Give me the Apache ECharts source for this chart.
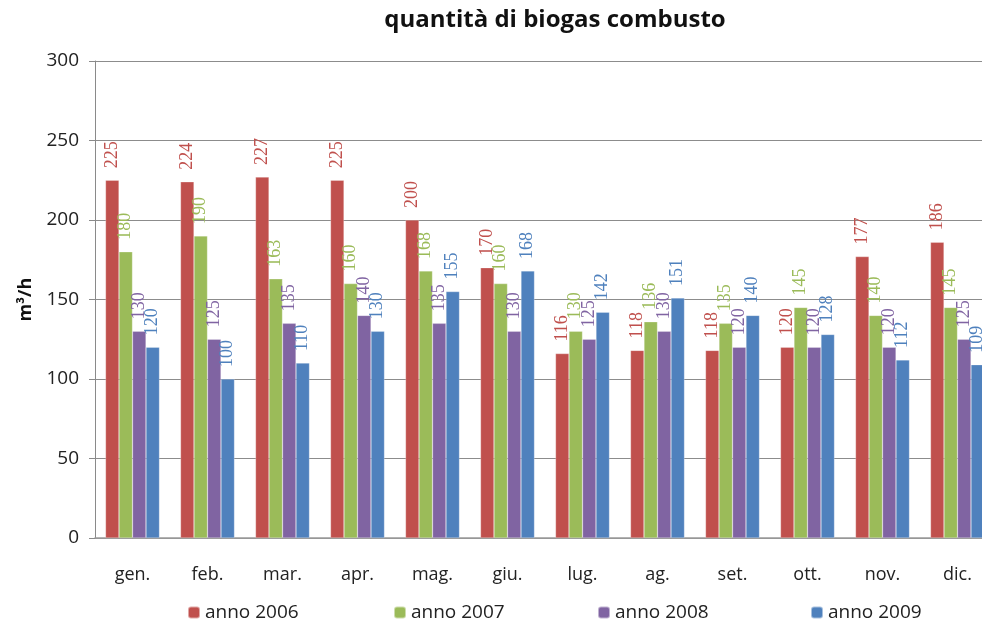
<!DOCTYPE html>
<html>
<head>
<meta charset="utf-8">
<script src="https://cdn.jsdelivr.net/npm/echarts@6/dist/echarts.min.js"></script>
<style>
  html, body { margin: 0; padding: 0; background: #fff; }
  #chart { width: 982px; height: 622px; }
</style>
</head>
<body>
<div id="chart"></div>
<script>
const months = ['gen.', 'feb.', 'mar.', 'apr.', 'mag.', 'giu.', 'lug.', 'ag.', 'set.', 'ott.', 'nov.', 'dic.']
const seriesNames = ['anno 2006', 'anno 2007', 'anno 2008', 'anno 2009']
const anno2006 = [225, 224, 227, 225, 200, 170, 116, 118, 118, 120, 177, 186]
const anno2007 = [180, 190, 163, 160, 168, 160, 130, 136, 135, 145, 140, 145]
const anno2008 = [130, 125, 135, 140, 135, 130, 125, 130, 120, 120, 120, 125]
const anno2009 = [120, 100, 110, 130, 155, 168, 142, 151, 140, 128, 112, 109]
const yTicks = [0, 50, 100, 150, 200, 250, 300]

const colors = ['#C0504D', '#9BBB59', '#8064A2', '#4F81BD']
const values = [anno2006, anno2007, anno2008, anno2009]
const legendLeft = [187, 393, 597, 810]

const sansFont = '"Open Sans", "DejaVu Sans", sans-serif'

const chart = echarts.init(document.getElementById('chart'))

const option = {
  backgroundColor: '#fff',
  animation: false,
  title: {
    text: 'quantità di biogas combusto',
    left: 550,
    textAlign: 'center',
    top: 3,
    textStyle: {
      color: '#111',
      fontFamily: sansFont,
      fontWeight: 'bold',
      fontSize: 24
    }
  },
  // one legend per series so each item sits where it does in the original
  legend: seriesNames.map((name, i) => ({
    data: [name],
    left: legendLeft[i],
    top: 603,
    padding: 0,
    itemWidth: 12,
    itemHeight: 12,
    selectedMode: false,
    textStyle: {
      color: '#222',
      fontFamily: sansFont,
      fontSize: 19
    }
  })),
  grid: {
    left: 95,
    top: 61,
    width: 900,
    bottom: 84,
    outerBoundsMode: 'none'
  },
  xAxis: {
    type: 'category',
    data: months,
    axisLine: { lineStyle: { color: '#9a9a9a', width: 1.5 } },
    axisTick: { length: 6, lineStyle: { color: '#8a8a8a' } },
    axisLabel: {
      color: '#222',
      fontFamily: sansFont,
      fontSize: 18,
      margin: 28
    }
  },
  yAxis: {
    type: 'value',
    min: 0,
    max: yTicks[yTicks.length - 1],
    interval: yTicks[1] - yTicks[0],
    name: 'm³/h',
    nameLocation: 'middle',
    nameRotate: 90,
    nameGap: 60,
    nameTextStyle: {
      color: '#111',
      fontFamily: sansFont,
      fontWeight: 'bold',
      fontSize: 18
    },
    axisLine: { show: true, lineStyle: { color: '#8a8a8a' } },
    axisTick: { show: true, length: 6, lineStyle: { color: '#8a8a8a' } },
    axisLabel: {
      color: '#222',
      fontFamily: sansFont,
      fontSize: 19,
      margin: 16
    },
    splitLine: { lineStyle: { color: '#8c8c8c', width: 1 } }
  },
  series: seriesNames.map((name, i) => ({
    name: name,
    type: 'bar',
    data: values[i],
    barGap: '0%',
    barCategoryGap: '28%',
    itemStyle: {
      color: colors[i],
      borderColor: 'rgba(255,255,255,0.5)',
      borderWidth: 0.5
    },
    label: {
      show: true,
      position: 'top',
      rotate: 90,
      align: 'left',
      verticalAlign: 'middle',
      distance: 12,
      color: colors[i],
      fontFamily: '"Liberation Serif", "DejaVu Serif", serif',
      fontSize: 18
    }
  }))
}

chart.setOption(option)
</script>
</body>
</html>
